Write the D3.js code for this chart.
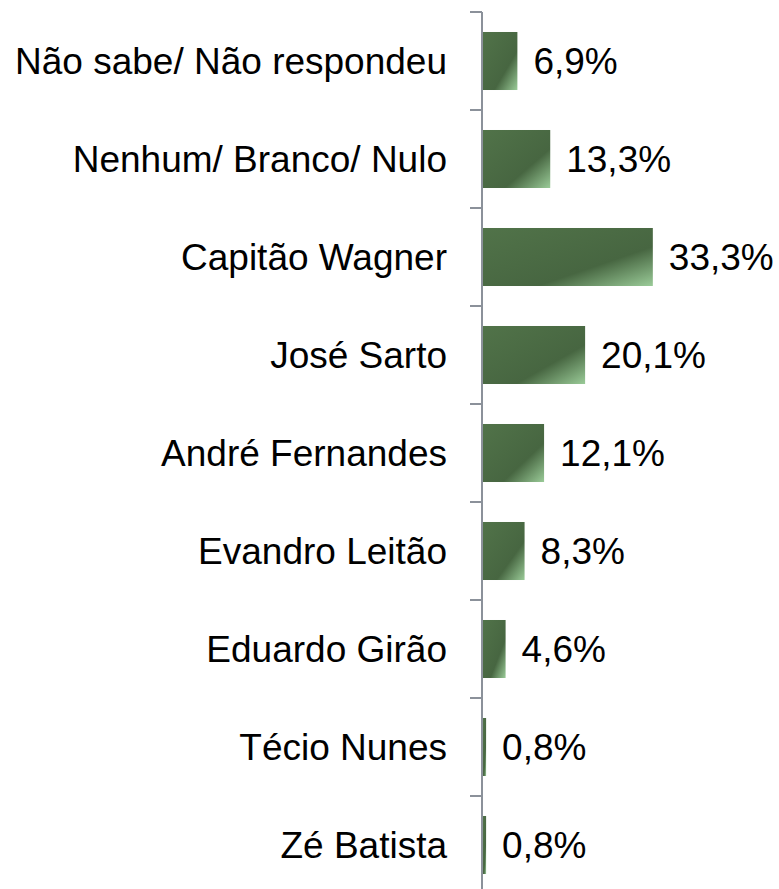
<!DOCTYPE html>
<html>
<head>
<meta charset="utf-8">
<script src="https://cdn.jsdelivr.net/npm/d3@7"></script>
<style>
  body { margin: 0; background: #fff; }
  svg { display: block; }
</style>
</head>
<body>
<div id="chart"></div>
<script>
// categories top to bottom and their percentages
const categories = ["Não sabe/ Não respondeu", "Nenhum/ Branco/ Nulo", "Capitão Wagner", "José Sarto",
    "André Fernandes", "Evandro Leitão", "Eduardo Girão", "Técio Nunes", "Zé Batista"];
const values = [6.9, 13.3, 33.3, 20.1, 12.1, 8.3, 4.6, 0.8, 0.8];
const valueLabels = ["6,9%", "13,3%", "33,3%", "20,1%", "12,1%", "8,3%", "4,6%", "0,8%", "0,8%"];

const data = categories.map((c, i) => ({ cat: c, value: values[i], label: valueLabels[i] }));

const width = 779, height = 889;
const axisX = 482;

const svg = d3.select("#chart")
    .append("svg")
    .attr("width", width)
    .attr("height", height);

// gradient like the original bars: dark green with light bottom-right corner
const grad = svg.append("defs").append("linearGradient")
    .attr("id", "barGrad")
    .attr("x1", 0).attr("y1", 0)
    .attr("x2", 1).attr("y2", 1);
grad.append("stop").attr("offset", "0").attr("stop-color", "#517349");
grad.append("stop").attr("offset", "0.66").attr("stop-color", "#476641");
grad.append("stop").attr("offset", "1").attr("stop-color", "#9acb98");

// scales (plot continues a little below the visible area)
const y = d3.scaleBand()
    .domain(categories)
    .range([12, 894])
    .paddingInner(0.408)
    .paddingOuter(0.204);

const x = d3.scaleLinear()
    .domain([0, 35])
    .range([axisX, axisX + 35 * 5.13]);

// bars
svg.selectAll("rect.bar")
    .data(data)
    .enter().append("rect")
    .attr("class", "bar")
    .attr("x", x(0) + 1)
    .attr("y", d => y(d.cat))
    .attr("width", d => x(d.value) - x(0) - 1)
    .attr("height", y.bandwidth())
    .attr("fill", "url(#barGrad)");

// axis line with ticks at category boundaries
const step = y.step();
const boundaries = d3.range(categories.length + 1).map(i => y.range()[0] + i * step);
svg.append("line")
    .attr("x1", axisX).attr("x2", axisX)
    .attr("y1", y.range()[0]).attr("y2", y.range()[1])
    .attr("stroke", "#8b919a")
    .attr("stroke-width", 2);
svg.selectAll("line.tick")
    .data(boundaries)
    .enter().append("line")
    .attr("class", "tick")
    .attr("x1", axisX - 12).attr("x2", axisX)
    .attr("y1", d => d).attr("y2", d => d)
    .attr("stroke", "#8b919a")
    .attr("stroke-width", 2);

// category labels
svg.selectAll("text.cat")
    .data(data)
    .enter().append("text")
    .attr("class", "cat")
    .attr("x", 447)
    .attr("y", d => y(d.cat) + y.bandwidth() / 2)
    .attr("dy", "0.35em")
    .attr("text-anchor", "end")
    .attr("font-family", "Liberation Sans, Arial, sans-serif")
    .attr("font-size", "37px")
    .attr("fill", "#000")
    .text(d => d.cat);

// value labels
svg.selectAll("text.val")
    .data(data)
    .enter().append("text")
    .attr("class", "val")
    .attr("x", d => x(d.value) + 16)
    .attr("y", d => y(d.cat) + y.bandwidth() / 2)
    .attr("dy", "0.35em")
    .attr("font-family", "Liberation Sans, Arial, sans-serif")
    .attr("font-size", "37px")
    .attr("fill", "#000")
    .text(d => d.label);
</script>
</body>
</html>
